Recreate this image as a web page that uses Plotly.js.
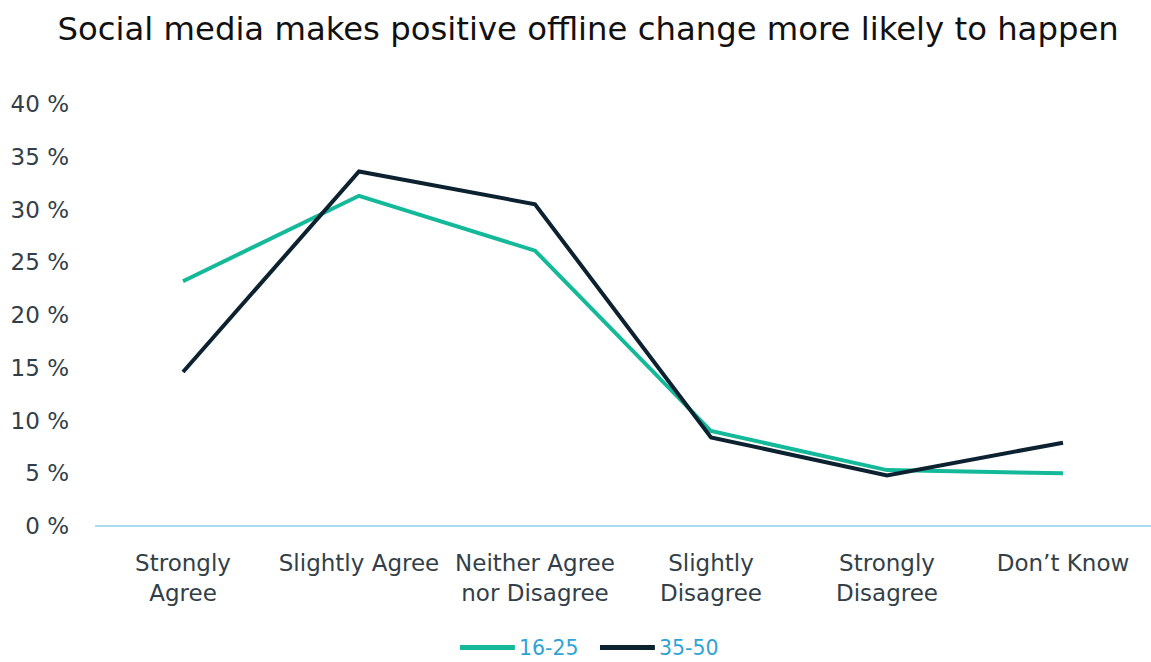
<!DOCTYPE html>
<html>
<head>
<meta charset="utf-8">
<script src="https://cdn.plot.ly/plotly-3.0.1.min.js"></script>
<style>html,body{margin:0;padding:0;background:#fff;}#chart{width:1151px;height:662px;}</style>
</head>
<body>
<div id="chart"></div>
<script>
const categories = ["Strongly<br>Agree", "Slightly Agree", "Neither Agree<br>nor Disagree", "Slightly<br>Disagree", "Strongly<br>Disagree", "Don’t Know"];
const seriesNames = ["16-25", "35-50"];
const seriesColors = ["#14B99A", "#0D2230"];
const values1625 = [23.2, 31.3, 26.1, 9.0, 5.3, 5.0];
const values3550 = [14.6, 33.6, 30.5, 8.4, 4.8, 7.9];
const yTicks = [0, 5, 10, 15, 20, 25, 30, 35, 40];

const font = "'DejaVu Sans', 'Open Sans', sans-serif";
const traces = [
  {x: categories, y: values1625, name: seriesNames[0], type: "scatter", mode: "lines",
   line: {color: seriesColors[0], width: 4}, showlegend: false},
  {x: categories, y: values3550, name: seriesNames[1], type: "scatter", mode: "lines",
   line: {color: seriesColors[1], width: 4}, showlegend: false}
];

// Custom legend (longer sample lines than Plotly's built-in legend)
const legendStarts = [0.3456, 0.4782];
const legendLineLen = 0.052;
const legendY = -0.2880;
const shapes = [];
const annotations = [];
seriesNames.forEach((name, i) => {
  shapes.push({type: "line", xref: "paper", yref: "paper",
    x0: legendStarts[i], x1: legendStarts[i] + legendLineLen, y0: legendY, y1: legendY,
    line: {color: seriesColors[i], width: 5}});
  annotations.push({xref: "paper", yref: "paper", x: legendStarts[i] + legendLineLen + 0.0025, y: legendY,
    xanchor: "left", yanchor: "middle", showarrow: false, text: name, borderpad: 0,
    font: {family: font, size: 20.5, color: "#2FA3D6"}});
});

const layout = {
  width: 1151, height: 662,
  margin: {l: 95, r: 0, t: 104, b: 136, autoexpand: false},
  paper_bgcolor: "#fff", plot_bgcolor: "#fff",
  title: {text: "Social media makes positive offline change more likely to happen",
          font: {family: font, size: 32.3, color: "#111"}, x: 0.511, xanchor: "center", y: 0.957, yanchor: "middle"},
  xaxis: {type: "category", range: [-0.5, 5.5], showgrid: false, zeroline: false, automargin: false,
          showline: false, ticks: "", tickfont: {family: font, size: 23, color: "#333F48"},
          ticklabelstandoff: 21},
  yaxis: {range: [0, 40], tickvals: yTicks, ticktext: yTicks.map(v => v + " %"), automargin: false,
          showgrid: false, zeroline: true, zerolinecolor: "#A9DDF0", zerolinewidth: 1.5,
          showline: false, ticks: "", tickfont: {family: font, size: 23, color: "#333F48"},
          ticklabelstandoff: 25, fixedrange: true},
  showlegend: false,
  shapes: shapes,
  annotations: annotations
};
Plotly.newPlot("chart", traces, layout, {displayModeBar: false, staticPlot: true});
</script>
</body>
</html>
